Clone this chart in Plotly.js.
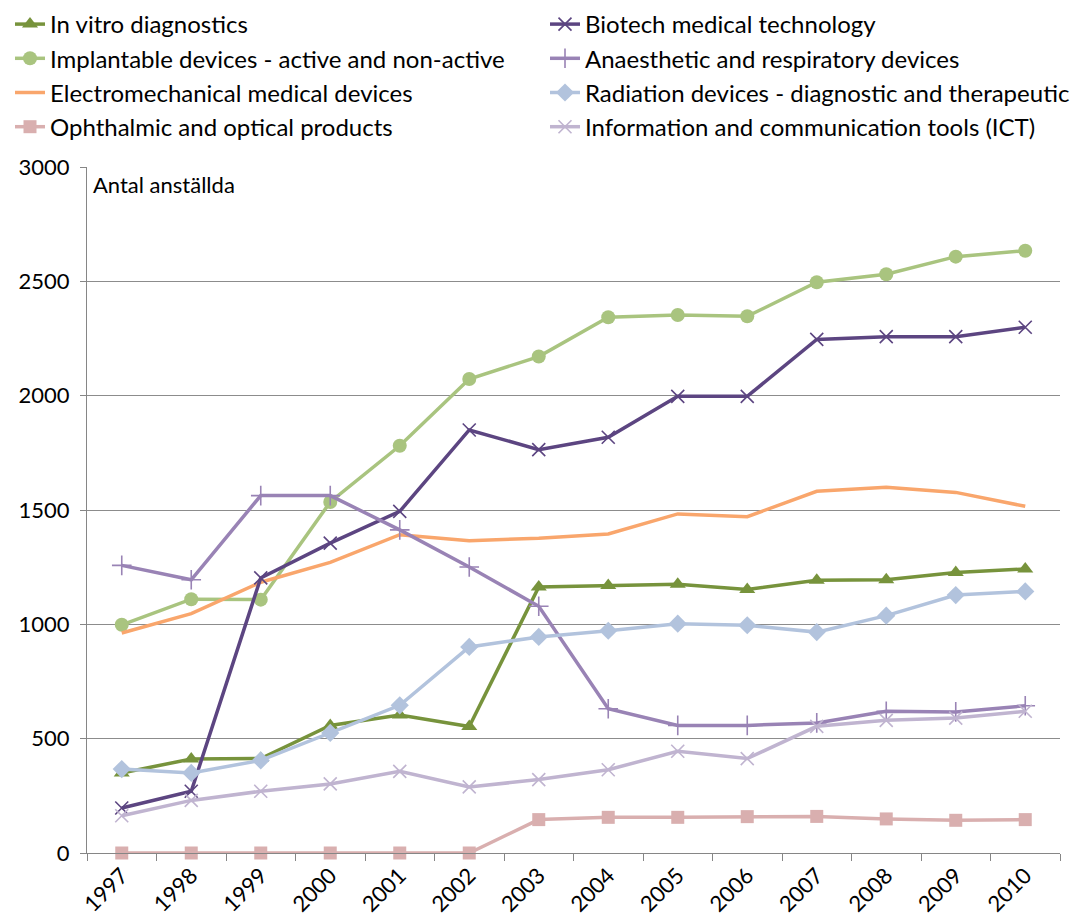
<!DOCTYPE html>
<html>
<head>
<meta charset="utf-8">
<script src="https://cdn.plot.ly/plotly-3.0.1.min.js"></script>
<style>html,body{margin:0;padding:0;background:#fff;}#chart{width:1071px;height:921px;}</style>
</head>
<body>
<div id="chart"></div>
<script>
const years = ['1997','1998','1999','2000','2001','2002','2003','2004','2005','2006','2007','2008','2009','2010'];

const inVitro      = [350, 411, 413, 558, 603, 553, 1163, 1170, 1175, 1152, 1193, 1195, 1227, 1242];
const implantable  = [998, 1110, 1108, 1535, 1781, 2073, 2171, 2343, 2353, 2347, 2496, 2531, 2608, 2634];
const electromech  = [962, 1047, 1184, 1271, 1392, 1366, 1377, 1395, 1483, 1471, 1582, 1599, 1577, 1516];
const ophthalmic   = [0, 0, 0, 0, 0, 0, 146, 156, 156, 159, 160, 149, 143, 146];
const biotech      = [197, 270, 1203, 1355, 1494, 1850, 1764, 1818, 1997, 1997, 2246, 2258, 2258, 2299];
const anaesthetic  = [1258, 1195, 1563, 1563, 1413, 1251, 1079, 631, 558, 558, 569, 620, 617, 644];
const radiation    = [367, 350, 405, 525, 646, 901, 945, 972, 1003, 996, 966, 1038, 1128, 1144];
const ict          = [163, 230, 270, 302, 357, 289, 321, 364, 445, 413, 554, 580, 590, 620];

const seriesNames = {
  inVitro: 'In vitro diagnostics',
  implantable: 'Implantable devices - active and non-active',
  electromech: 'Electromechanical medical devices',
  ophthalmic: 'Ophthalmic and optical products',
  biotech: 'Biotech medical technology',
  anaesthetic: 'Anaesthetic and respiratory devices',
  radiation: 'Radiation devices - diagnostic and therapeutic',
  ict: 'Information and communication tools (ICT)'
};

function tr(name, y, color, symbol, msize, leg) {
  const t = {x: years, y: y, name: name, type: 'scatter', mode: symbol ? 'lines+markers' : 'lines',
    line: {color: color, width: 3.5}, cliponaxis: false, legend: leg};
  if (symbol) {
    t.marker = {symbol: symbol, size: msize, color: color,
      line: {color: color, width: symbol.indexOf('thin') >= 0 ? 1.6 : 0}};
  }
  return t;
}

const data = [
  tr(seriesNames.inVitro, inVitro, '#77933C', 'triangle-up', 14, 'legend'),
  tr(seriesNames.implantable, implantable, '#A9C47F', 'circle', 14, 'legend'),
  tr(seriesNames.electromech, electromech, '#F9A66C', null, 0, 'legend'),
  tr(seriesNames.ophthalmic, ophthalmic, '#D9AFAF', 'square', 13, 'legend'),
  tr(seriesNames.biotech, biotech, '#5C4581', 'x-thin', 13, 'legend2'),
  tr(seriesNames.anaesthetic, anaesthetic, '#9983B5', 'cross-thin', 14, 'legend2'),
  tr(seriesNames.radiation, radiation, '#B2C3DD', 'diamond', 14, 'legend2'),
  tr(seriesNames.ict, ict, '#C0B4D0', 'x-thin', 13, 'legend2')
];

const font = 'Lato, "Open Sans", sans-serif';
const legFont = {family: font, size: 24, color: '#000'};

const layout = {
  width: 1071, height: 921,
  margin: {l: 87, r: 11, t: 167, b: 68, autoexpand: false},
  paper_bgcolor: '#fff', plot_bgcolor: '#fff',
  font: {family: font, size: 22, color: '#000'},
  showlegend: true,
  legend: {orientation: 'v', x: 10 / 1071, y: 1 - 2 / 921, xref: 'container', yref: 'container', yanchor: 'top', xanchor: 'left',
    font: legFont, itemwidth: 30, tracegroupgap: 0, bgcolor: 'rgba(0,0,0,0)', borderwidth: 0},
  legend2: {orientation: 'v', x: 545 / 1071, y: 1 - 2 / 921, xref: 'container', yref: 'container', yanchor: 'top', xanchor: 'left',
    font: legFont, itemwidth: 30, tracegroupgap: 0, bgcolor: 'rgba(0,0,0,0)', borderwidth: 0},
  xaxis: {type: 'category', tickson: 'boundaries', ticks: 'outside', ticklen: 7, tickcolor: '#868686',
    showline: true, linecolor: '#868686', linewidth: 1, showgrid: false, tickangle: -45,
    tickfont: {family: font, size: 22, color: '#000'}, range: [-0.5, 13.5], fixedrange: true},
  yaxis: {range: [0, 3000], dtick: 500, tick0: 0, ticks: 'outside', ticklen: 6, tickcolor: '#868686',
    showline: true, linecolor: '#868686', linewidth: 1, showgrid: true, gridcolor: '#8c8c8c', gridwidth: 1,
    zeroline: false, tickfont: {family: font, size: 22, color: '#000'}, ticklabelstandoff: 6},
  annotations: [{text: 'Antal anställda', xref: 'paper', yref: 'paper', x: 0, y: 1, xanchor: 'left', yanchor: 'top',
    xshift: 4, yshift: -2, showarrow: false, font: {family: font, size: 22, color: '#000'}}]
};

Plotly.newPlot('chart', data, layout, {displayModeBar: false, staticPlot: true});
</script>
</body>
</html>
